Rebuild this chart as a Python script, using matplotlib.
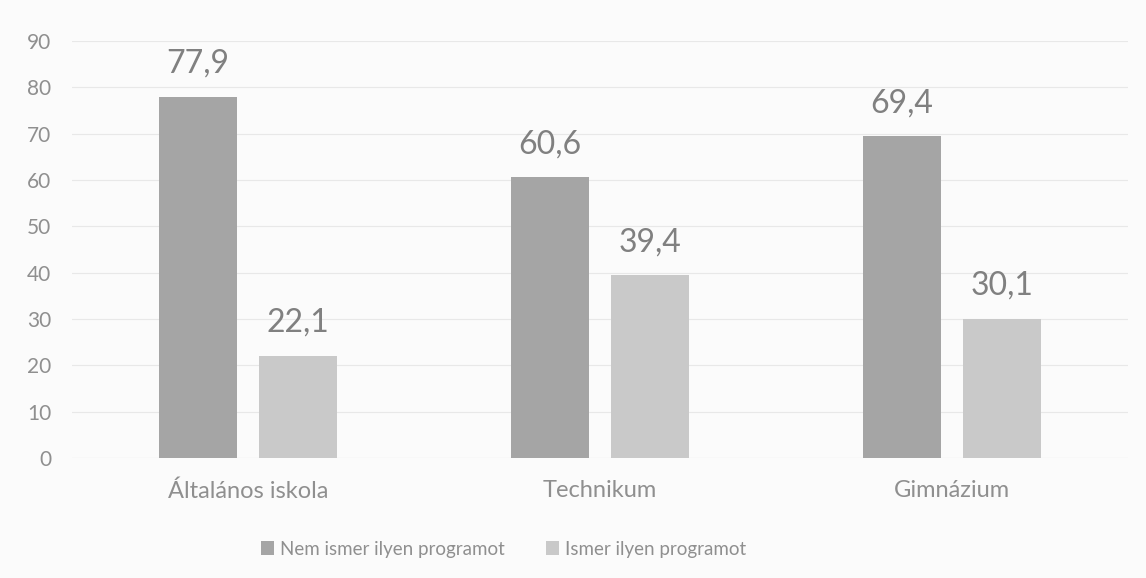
import numpy as np
import matplotlib.pyplot as plt

plt.rcParams['font.family'] = ['Lato', 'DejaVu Sans']

categories = ['Általános iskola', 'Technikum', 'Gimnázium']
nem_ismer = [77.9, 60.6, 69.4]
ismer = [22.1, 39.4, 30.1]
series_labels = ['Nem ismer ilyen programot', 'Ismer ilyen programot']

DARK = '#a5a5a5'
LIGHT = '#c9c9c9'
TEXT = '#8f8f8f'
BG = '#fbfbfb'

fig = plt.figure(figsize=(11.46, 5.78), dpi=100, facecolor=BG)
ax = fig.add_axes([0.0628, 0.2076, 0.9215, 0.7214], facecolor=BG)

x = np.arange(len(categories))
w = 0.219
off = (w + 0.065) / 2
b1 = ax.bar(x - off, nem_ismer, w, color=DARK, label=series_labels[0], zorder=2)
b2 = ax.bar(x + off, ismer, w, color=LIGHT, label=series_labels[1], zorder=2)

# data labels with comma decimal
for bars in (b1, b2):
    for rect in bars:
        h = rect.get_height()
        ax.text(rect.get_x() + rect.get_width() / 2, h + 5.2, f'{h:.1f}'.replace('.', ','),
                ha='center', va='baseline', fontsize=23, color='#808080')

ax.set_xlim(-0.5, 2.5)
ax.set_ylim(0, 90)
ax.set_yticks(range(0, 91, 10))
ax.set_xticks(x)
ax.set_xticklabels(categories, fontsize=17)
ax.grid(axis='y', color='#e8e8e8', linewidth=0.8, zorder=0)
for s in ax.spines.values():
    s.set_visible(False)
ax.axhline(0, color='#e0e0e0', linewidth=0.8, zorder=1)
ax.tick_params(axis='both', length=0, colors=TEXT)
ax.tick_params(axis='y', pad=15, labelsize=15)
ax.tick_params(axis='x', pad=16)

leg = fig.legend(loc='center', bbox_to_anchor=(0.4395, 0.05), ncol=2, frameon=False,
                 fontsize=13.5, handlelength=0.7, handleheight=0.7, handletextpad=0.3,
                 columnspacing=2.2)
for t in leg.get_texts():
    t.set_color(TEXT)

fig.savefig('out.png', dpi=100, facecolor=BG)
